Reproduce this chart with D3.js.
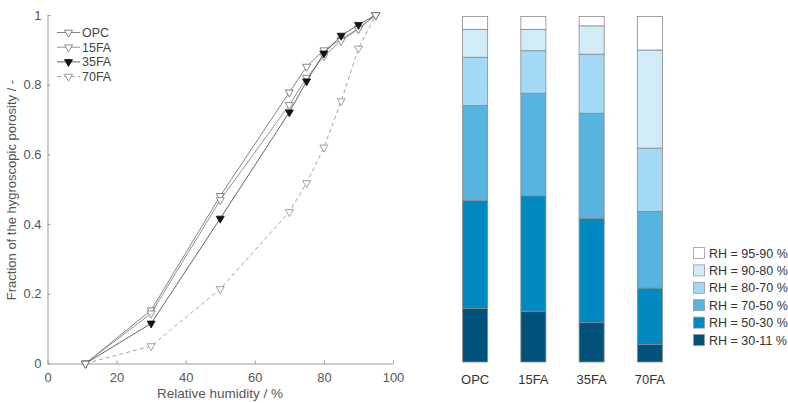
<!DOCTYPE html>
<html><head><meta charset="utf-8">
<script src="https://cdn.jsdelivr.net/npm/d3@7"></script>
<style>
body{margin:0;background:#fff;}
svg{display:block;font-family:"Liberation Sans",Arial,sans-serif;}
</style></head>
<body><svg id="c" width="788" height="403"></svg>
<script>
// ---- Data ----
const rh = [11, 30, 50, 70, 75, 80, 85, 90, 95];
const opc  = [0, 0.153, 0.481, 0.778, 0.852, 0.899, 0.930, 0.961, 1.0];
const fa15 = [0, 0.144, 0.469, 0.742, 0.820, 0.882, 0.926, 0.960, 1.0];
const fa35 = [0, 0.115, 0.416, 0.721, 0.810, 0.890, 0.941, 0.972, 1.0];
const fa70 = [0, 0.050, 0.214, 0.435, 0.518, 0.620, 0.753, 0.904, 1.0];
const lineNames = ["OPC", "15FA", "35FA", "70FA"];
const xTicks = [0, 20, 40, 60, 80, 100];
const yTicks = [0, 0.2, 0.4, 0.6, 0.8, 1];

const barCats = ["OPC", "15FA", "35FA", "70FA"];
const bandNames = ["RH = 30-11 %", "RH = 50-30 %", "RH = 70-50 %", "RH = 80-70 %", "RH = 90-80 %", "RH = 95-90 %"];
// segment fractions bottom -> top, per band
const band30_11 = [0.155, 0.147, 0.114, 0.051];
const band50_30 = [0.312, 0.334, 0.302, 0.163];
const band70_50 = [0.275, 0.297, 0.304, 0.222];
const band80_70 = [0.140, 0.123, 0.171, 0.183];
const band90_80 = [0.081, 0.062, 0.082, 0.284];
const band95_90 = [0.037, 0.037, 0.027, 0.097];
const bandColors = ["#00527a", "#0088c1", "#56b4df", "#a3d9f4", "#d2ebf9", "#ffffff"];

const svg = d3.select("#c");
const axisCol = "#9a9a9a", textCol = "#555";

// ---- Left chart ----
const x = d3.scaleLinear().domain([0, 100]).range([47.5, 393]);
const y = d3.scaleLinear().domain([0, 1]).range([363.5, 15]);
const L = svg.append("g");

const xa = L.append("g").attr("transform", `translate(0,${y(0)})`)
  .call(d3.axisBottom(x).tickValues(xTicks).tickFormat(d3.format("d")).tickSizeInner(-3).tickSizeOuter(0).tickPadding(6));
const ya = L.append("g").attr("transform", `translate(${x(0)},0)`)
  .call(d3.axisLeft(y).tickValues(yTicks).tickFormat(d => d === 0 || d === 1 ? d3.format("d")(d) : d3.format(".1f")(d)).tickSizeInner(-3).tickSizeOuter(0).tickPadding(6));
[xa, ya].forEach(a => {
  a.select(".domain").attr("stroke", axisCol);
  a.selectAll(".tick line").attr("stroke", axisCol);
  a.selectAll("text").attr("fill", textCol).style("font-size", "13px").style("font-family", "Liberation Sans, Arial, sans-serif");
});
xa.selectAll("text").attr("dy", "0.95em");

L.append("text").attr("x", 220).attr("y", 398).attr("text-anchor", "middle")
  .attr("fill", textCol).style("font-size", "13.5px").text("Relative humidity / %");
L.append("text").attr("transform", "translate(16,190) rotate(-90)").attr("text-anchor", "middle")
  .attr("fill", textCol).style("font-size", "13px").text("Fraction of the hygroscopic porosity / -");

const seriesVals = [opc, fa15, fa35, fa70];
const styles = [
  {stroke: "#777", dash: null, fill: "#fff", mstroke: "#666"},
  {stroke: "#888", dash: null, fill: "#fff", mstroke: "#777"},
  {stroke: "#555", dash: null, fill: "#111", mstroke: "#111"},
  {stroke: "#999", dash: "4,3", fill: "#fff", mstroke: "#888"}
];
const tri = d3.symbol().type(d3.symbolTriangle).size(28);
const line = d3.line().x(d => x(d[0])).y(d => y(d[1]));
seriesVals.forEach((vals, i) => {
  const pts = rh.map((r, j) => [r, vals[j]]);
  const s = styles[i];
  L.append("path").datum(pts).attr("d", line).attr("fill", "none")
    .attr("stroke", s.stroke).attr("stroke-width", 0.9).attr("stroke-dasharray", s.dash);
  L.selectAll(null).data(pts).join("path")
    .attr("d", tri).attr("transform", d => `translate(${x(d[0])},${y(d[1])}) rotate(180)`)
    .attr("fill", s.fill).attr("stroke", s.mstroke).attr("stroke-width", 0.8);
});

// left legend
const lg = L.append("g");
lineNames.forEach((n, i) => {
  const s = styles[i];
  const yy = 32.5 + i * 14.7;
  lg.append("line").attr("x1", 57).attr("x2", 80).attr("y1", yy).attr("y2", yy)
    .attr("stroke", s.stroke).attr("stroke-width", 0.9).attr("stroke-dasharray", s.dash);
  lg.append("path").attr("d", tri).attr("transform", `translate(68.5,${yy}) rotate(180)`)
    .attr("fill", s.fill).attr("stroke", s.mstroke).attr("stroke-width", 0.8);
  lg.append("text").attr("x", 82).attr("y", yy).attr("dy", "0.36em")
    .attr("fill", "#444").style("font-size", "12.5px").text(n);
});

// ---- Right chart (stacked bars) ----
const bands = [band30_11, band50_30, band70_50, band80_70, band90_80, band95_90];
const bx = d3.scaleBand().domain(barCats).range([446, 679]).paddingInner(0.57).paddingOuter(0.285);
const by = d3.scaleLinear().domain([0, 1]).range([362, 16.5]);
const R = svg.append("g");
const table = barCats.map((c, ci) => {
  const o = {cat: c};
  bands.forEach((b, bi) => o["b" + bi] = b[ci]);
  return o;
});
const stack = d3.stack().keys(bands.map((b, bi) => "b" + bi))(table);
stack.forEach((layer, li) => {
  R.selectAll(null).data(layer).join("rect")
    .attr("x", d => bx(d.data.cat)).attr("width", bx.bandwidth())
    .attr("y", d => by(d[1])).attr("height", d => by(d[0]) - by(d[1]))
    .attr("fill", bandColors[li]).attr("stroke", "#8a8a8a").attr("stroke-width", 0.8);
});
R.selectAll(null).data(barCats).join("text")
  .attr("x", d => bx(d) + bx.bandwidth() / 2).attr("y", 384).attr("text-anchor", "middle")
  .attr("fill", "#333").style("font-size", "13px").text(d => d);

// right legend
const rg = R.append("g");
for (let k = 0; k < 6; k++) {
  const bi = 5 - k;
  const yy = 253 + k * 17.4;
  rg.append("rect").attr("x", 693.5).attr("y", yy - 5.5).attr("width", 11).attr("height", 11)
    .attr("fill", bandColors[bi]).attr("stroke", "#999").attr("stroke-width", 0.8);
  rg.append("text").attr("x", 709).attr("y", yy).attr("dy", "0.36em")
    .attr("fill", "#333").style("font-size", "12.5px").text(bandNames[bi]);
}
</script></body></html>
